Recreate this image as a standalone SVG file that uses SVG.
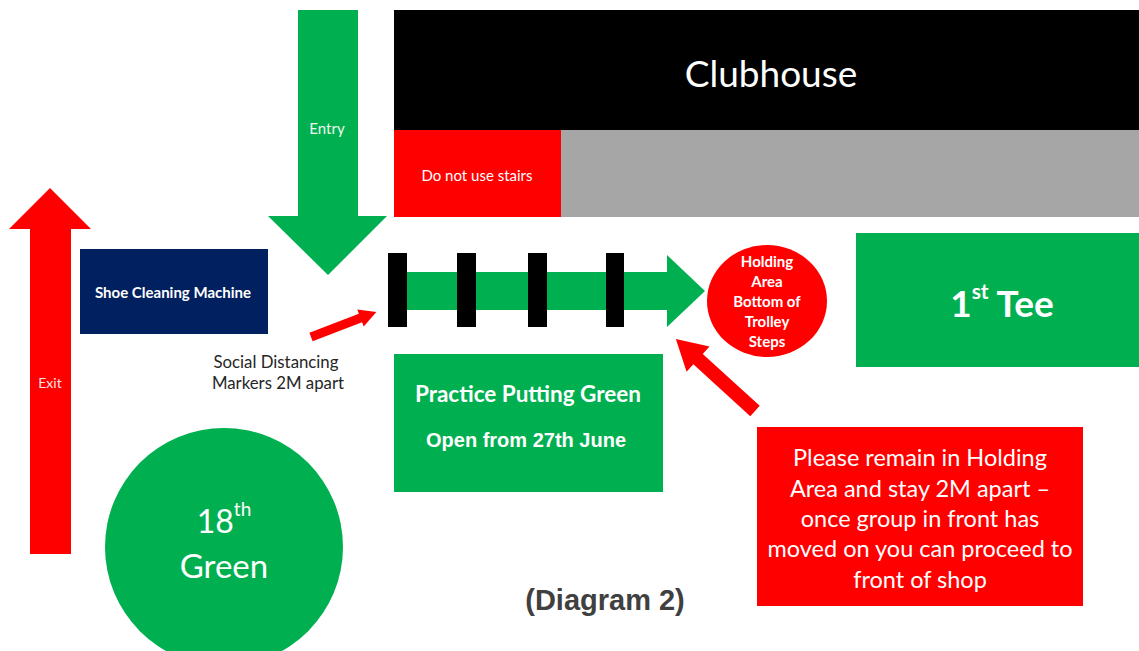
<svg xmlns="http://www.w3.org/2000/svg" width="1139" height="651" viewBox="0 0 1139 651">
<style>
  .t { font-family: Lato, "Open Sans", sans-serif; fill: #ffffff; text-anchor: middle; dominant-baseline: central; }
  .b { font-weight: bold; }
  .g { fill: #00b050; }
  .r { fill: #ff0000; }
  .k { fill: #000000; }
  .a { font-family: "Liberation Sans", Arial, sans-serif; font-weight: bold; text-anchor: middle; dominant-baseline: central; }
</style>
<rect width="1139" height="651" fill="#ffffff"/>
<g id="clubhouse">
  <rect x="394" y="10" width="745" height="120" class="k"/>
  <text class="t" x="771" y="72" font-size="37">Clubhouse</text>
</g>
<g id="stairs">
  <rect x="394" y="130" width="167" height="87" class="r"/>
  <text class="t" x="477" y="175" font-size="15">Do not use stairs</text>
</g>
<g id="terrace">
  <rect x="561" y="130" width="578" height="87" fill="#a6a6a6"/>
</g>
<g id="shoe-cleaning">
  <rect x="80" y="249" width="188" height="85" fill="#002060"/>
  <text class="t b" x="173" y="292" font-size="15">Shoe Cleaning Machine</text>
</g>
<g id="connectors">
  <g id="entry-arrow">
    <polygon class="g" points="298,10 358,10 358,216 387,216 328,275 268,216 298,216"/>
    <text class="t" x="327" y="128" font-size="15" style="fill:#eef8ee">Entry</text>
  </g>
  <g id="exit-arrow">
    <polygon class="r" points="30,554 30,229 9,229 50,188 91,229 71,229 71,554"/>
    <text class="t" x="50" y="382" font-size="14" style="fill:#ffe6e6">Exit</text>
  </g>
  <polygon id="queue-arrow" class="g" points="400,272 667,272 667,255 705,291 667,327 667,310 400,310"/>
  <polygon id="holding-pointer" class="r" transform="translate(755,411) rotate(222.3)" points="0,-7 77,-7 77,-17 107,0 77,17 77,7 0,7"/>
  <polygon id="markers-pointer" class="r" transform="translate(311,337) rotate(-21)" points="0,-4.5 53,-4.5 53,-9 70,0 53,9 53,4.5 0,4.5"/>
</g>
<g id="markers">
  <rect x="388" y="253" width="19" height="74" class="k"/>
  <rect x="457" y="253" width="19" height="74" class="k"/>
  <rect x="528" y="253" width="19" height="74" class="k"/>
  <rect x="606" y="253" width="18" height="74" class="k"/>
</g>
<g id="holding-area">
  <ellipse cx="767" cy="301" rx="60" ry="56" class="r"/>
  <text class="t b" x="767" y="261" font-size="15">Holding</text>
  <text class="t b" x="767" y="281" font-size="15">Area</text>
  <text class="t b" x="767" y="301" font-size="15">Bottom of</text>
  <text class="t b" x="767" y="321" font-size="15">Trolley</text>
  <text class="t b" x="767" y="341" font-size="15">Steps</text>
</g>
<g id="first-tee">
  <rect x="856" y="233" width="283" height="134" class="g"/>
  <text class="t b" x="1002" y="302" font-size="37">1<tspan font-size="21" dy="-12">st</tspan><tspan dy="12"> Tee</tspan></text>
</g>
<g id="social-distancing-label">
  <text class="t" x="276" y="361" font-size="16.8" style="fill:#262626">Social Distancing</text>
  <text class="t" x="278" y="382" font-size="16.8" style="fill:#262626">Markers 2M apart</text>
</g>
<g id="putting-green">
  <rect x="394" y="354" width="269" height="138" class="g"/>
  <text class="t b" x="528" y="393" font-size="22.5">Practice Putting Green</text>
  <text class="a" x="526" y="440" font-size="20" fill="#ffffff">Open from 27th June</text>
</g>
<g id="instructions">
  <rect x="757" y="427" width="326" height="179" class="r"/>
  <text class="t" x="920" y="457" font-size="23.5">Please remain in Holding</text>
  <text class="t" x="920" y="488" font-size="23.5">Area and stay 2M apart –</text>
  <text class="t" x="920" y="518" font-size="23.5">once group in front has</text>
  <text class="t" x="920" y="548" font-size="23.5">moved on you can proceed to</text>
  <text class="t" x="920" y="579" font-size="23.5">front of shop</text>
</g>
<g id="eighteenth-green">
  <circle cx="224" cy="547" r="119" class="g"/>
  <text class="t" x="224" y="520" font-size="32">18<tspan font-size="19" dy="-12">th</tspan></text>
  <text class="t" x="224" y="565" font-size="33">Green</text>
</g>
<g id="caption">
  <text class="a" x="605" y="600" font-size="29" fill="#404040">(Diagram 2)</text>
</g>
</svg>
